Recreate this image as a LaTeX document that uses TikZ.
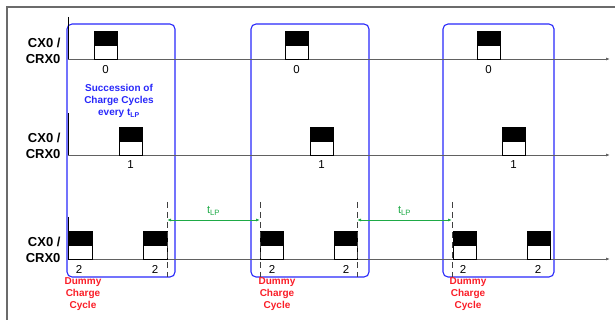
\documentclass[tikz,border=0pt]{standalone}
\usepackage{fontspec}
\setmainfont{Liberation Sans}
\usetikzlibrary{positioning,arrows.meta}

\definecolor{cyclblue}{RGB}{40,40,250}
\definecolor{dummyred}{RGB}{250,30,40}
\definecolor{lpgreen}{RGB}{30,170,70}

\begin{document}
\begin{tikzpicture}[x=1pt, y=-1pt,
    timeaxis/.style={draw=black!62, line width=0.9pt, -{Latex[length=4pt,width=3pt]}},
    pulse/.style={draw=black, line width=0.8pt, path picture={%
        \fill[black] (path picture bounding box.north west) rectangle ([yshift=-1pt]path picture bounding box.east);}},
    cyclebox/.style={draw=cyclblue, line width=1.1pt, rounded corners=5pt},
    dashline/.style={draw=black!75, line width=0.8pt, dash pattern=on 6pt off 4pt},
    lparrow/.style={draw=lpgreen, line width=0.8pt, {Latex[length=4pt,width=3pt]}-{Latex[length=4pt,width=3pt]}},
    chanlbl/.style={align=right, anchor=east, font=\fontsize{13}{16}\selectfont\bfseries},
    numlbl/.style={font=\fontsize{11.5}{13}\selectfont},
    dummylbl/.style={align=center, text=dummyred, font=\fontsize{10}{12}\selectfont\bfseries}]
          \useasboundingbox (0,0) rectangle (615,320);%
          \draw [black!58, line width=1.5pt] (615,7) -- (7,7) -- (7,320);%
          % charge cycle boxes
          \draw [cyclebox] (67,24) rectangle (175,277);%
          \draw [cyclebox] (251,24) rectangle (369,277);%
          \draw [cyclebox] (443,24) rectangle (554,277);%
          % time axes
          \coordinate (ta0) at (68,59);%
          \coordinate (ta1) at (610,59);%
          \coordinate (tb0) at (68,155);%
          \coordinate (tb1) at (610,155);%
          \coordinate (tc0) at (68,259);%
          \coordinate (tc1) at (610,259);%
          \draw [timeaxis] (ta0) -- (ta1);%
          \draw [timeaxis] (tb0) -- (tb1);%
          \draw [timeaxis] (tc0) -- (tc1);%
          \draw [black, line width=0.9pt] (68,17) -- (ta0);%
          \draw [black, line width=0.9pt] (68,113) -- (tb0);%
          \draw [black, line width=0.9pt] (68,217) -- (tc0);%
          % pulses
          \draw [pulse] (94,31) rectangle +(23,28);%
          \draw [pulse] (285,31) rectangle +(23,28);%
          \draw [pulse] (477,31) rectangle +(23,28);%
          \draw [pulse] (119,127) rectangle +(23,28);%
          \draw [pulse] (310,127) rectangle +(23,28);%
          \draw [pulse] (502,127) rectangle +(23,28);%
          \draw [pulse] (68,231) rectangle +(24,28);%
          \draw [pulse] (143,231) rectangle +(24,28);%
          \draw [pulse] (260,231) rectangle +(23,28);%
          \draw [pulse] (334,231) rectangle +(23,28);%
          \draw [pulse] (453,231) rectangle +(23,28);%
          \draw [pulse] (527,231) rectangle +(23,28);%
          % channel labels
          \node [chanlbl] (cha) at (64,51) {CX0 /\\CRX0};%
          \node [chanlbl] (chb) at (64,146) {CX0 /\\CRX0};%
          \node [chanlbl] (chc) at (64,250) {CX0 /\\CRX0};%
          % pulse numbers
          \node [numlbl] (za) at (105.5,70) {0};%
          \node [numlbl] (zb) at (296.5,70) {0};%
          \node [numlbl] (zc) at (488.5,70) {0};%
          \node [numlbl] (oa) at (130.5,165) {1};%
          \node [numlbl] (ob) at (321.5,165) {1};%
          \node [numlbl] (oc) at (513.5,165) {1};%
          \node [numlbl] (ta) at (79,269) {2};%
          \node [numlbl] (tb) at (155,269) {2};%
          \node [numlbl] (tc) at (272,269) {2};%
          \node [numlbl] (td) at (346,269) {2};%
          \node [numlbl] (te) at (463,269) {2};%
          \node [numlbl] (tf) at (538,269) {2};%
          % t_LP spacing
          \coordinate (da) at (167,220);%
          \coordinate (db) at (260,220);%
          \coordinate (dc) at (357,220);%
          \coordinate (dd) at (452,220);%
          \draw [dashline] (167,202) -- (167,277);%
          \draw [dashline] (260,202) -- (260,277);%
          \draw [dashline] (357,202) -- (357,277);%
          \draw [dashline] (452,202) -- (452,277);%
          \draw [lparrow] (da) -- (db);%
          \draw [lparrow] (dc) -- (dd);%
          \node [text=lpgreen, font=\fontsize{11}{13}\selectfont] (lpa) at (213.5,211) {t\textsubscript{LP}};%
          \node [text=lpgreen, font=\fontsize{11}{13}\selectfont] (lpb) at (404.5,211) {t\textsubscript{LP}};%
          % notes
          \node [align=center, text=cyclblue, font=\fontsize{10}{12}\selectfont\bfseries] (succ) at (119,101) {Succession of\\%
            Charge Cycles\\%
            every t\textsubscript{LP}};%
          \node [dummylbl] (dma) at (83,294) {Dummy\\Charge\\Cycle};%
          \node [dummylbl] (dmb) at (277,294) {Dummy\\Charge\\Cycle};%
          \node [dummylbl] (dmc) at (468,294) {Dummy\\Charge\\Cycle};%
        \end{tikzpicture}
\end{document}
